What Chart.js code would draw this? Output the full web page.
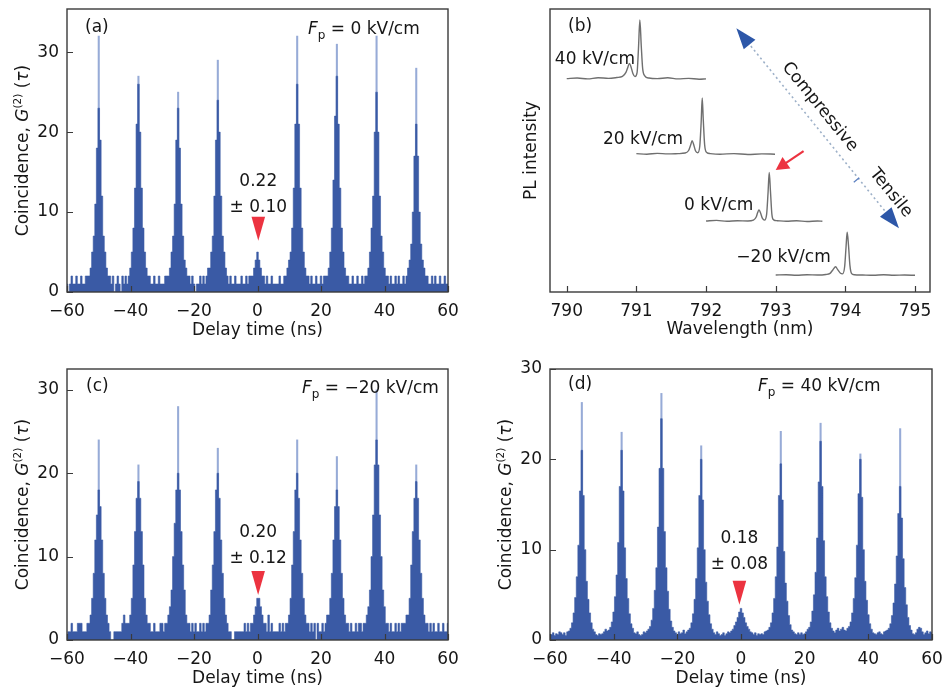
<!DOCTYPE html>
<html><head><meta charset="utf-8">
<script src="https://cdn.jsdelivr.net/npm/chart.js@4.4.1/dist/chart.umd.min.js"></script>
<style>
html,body{margin:0;padding:0;background:#fff;}
#wrap{position:relative;width:945px;height:689px;overflow:hidden;background:#fff;}
canvas{position:absolute;}
</style></head><body>
<div id="wrap">
<canvas id="ca" width="470" height="345" style="left:0;top:0"></canvas>
<canvas id="cb" width="475" height="345" style="left:470px;top:0"></canvas>
<canvas id="cc" width="470" height="344" style="left:0;top:345px"></canvas>
<canvas id="cd" width="475" height="344" style="left:470px;top:345px"></canvas>
</div>
<script>
// ---------------- DATA ----------------
// histogram bins: centres from -60 ns in 0.5 ns steps (241 bins)
const binStart = -60, binWidth = 0.5;
const delayTickStep = 20;
const peakDelays = [-50, -37.5, -25, -12.5, 12.5, 25, 37.5, 50];

// (a) Fp = 0 kV/cm  -- each row after the first = one pulse period (peak in the middle)
const countsA = [
  1,0,1,2,1,1,2,1,
  1,2,1,1,2,2,2,3,5,7,11,18,23,19,12,7,5,3,2,2,1,2,0,1,2,
  1,0,2,1,2,1,2,3,5,8,13,21,26,20,13,8,5,3,2,2,1,1,2,1,1,
  2,1,1,1,2,2,2,3,5,7,11,19,23,18,11,7,4,3,2,2,1,2,1,0,1,
  1,2,1,2,1,2,3,3,5,7,12,19,24,20,12,7,5,3,2,1,2,1,1,2,1,
  1,1,2,1,1,2,1,2,2,2,3,4,5,4,3,2,2,1,2,1,1,2,1,1,1,
  1,2,1,1,2,2,3,4,5,8,13,21,26,21,13,8,5,3,2,2,1,2,1,1,2,
  1,1,2,1,2,2,2,3,5,8,14,22,27,21,13,8,5,3,2,2,1,1,2,1,1,
  2,1,1,2,1,2,2,3,5,8,12,20,25,20,12,7,5,3,2,2,1,2,1,1,2,
  1,2,1,1,2,1,2,3,4,6,10,17,21,17,10,6,4,3,2,2,1,1,2,1,2,
  1,1,2,1,1,2,1,1
];
const spikesA = [32, 27, 25, 29, 32, 31, 32, 28];

// (c) Fp = -20 kV/cm
const countsC = [
  0,1,1,2,1,1,1,2,
  2,2,1,1,1,2,2,3,5,8,12,15,18,16,12,8,5,3,2,1,0,0,1,1,1,
  1,1,2,3,2,2,2,3,5,9,13,17,19,17,13,9,5,3,2,2,1,1,2,1,1,
  1,2,2,1,2,2,3,4,6,10,14,18,20,18,13,9,6,3,2,2,1,2,1,2,1,
  1,2,1,2,1,2,2,3,6,9,13,18,20,17,12,8,5,3,2,1,1,0,0,1,1,
  1,1,1,1,2,1,2,1,2,2,3,4,5,5,4,3,2,2,1,3,1,2,1,1,1,
  1,2,1,2,1,2,2,3,5,9,13,18,20,17,12,8,5,3,2,2,1,2,1,2,0,
  2,1,1,2,1,2,3,3,5,8,12,16,18,16,12,8,5,3,2,2,1,2,1,1,2,
  1,2,2,1,2,2,3,4,6,10,15,21,24,21,15,10,6,4,2,2,1,2,1,1,2,
  1,2,1,2,2,2,3,3,5,9,13,17,19,17,12,8,5,3,2,2,1,2,1,2,1,
  1,2,1,1,2,1,1,2
];
const spikesC = [24, 21, 28, 23, 24, 22, 30, 21];

// (d) Fp = 40 kV/cm
const countsD = [
  0.3,0.6,0.8,0.5,0.7,0.6,0.9,0.8,
  0.6,0.8,0.5,0.9,1.0,1.3,1.9,3.0,4.7,7.0,10.5,16.5,21,16,10,6.5,4.5,3.0,1.9,1.2,0.9,0.6,0.5,0.7,0.6,
  0.7,0.9,1.2,1.0,1.1,1.4,2.0,3.1,4.8,7.2,10.8,17,21,16.5,10.2,6.8,4.6,2.9,1.8,1.3,0.8,0.7,0.9,0.6,0.5,
  0.6,0.9,0.8,1.0,1.2,1.5,2.2,3.5,5.5,8.0,12.5,19,24.5,19,12,8,5.4,3.4,2.1,1.4,1.0,0.8,0.6,0.9,0.7,
  0.8,1.1,0.7,0.9,1.1,1.3,1.9,2.9,4.5,6.8,10.2,16,20,15.5,10,6.4,4.3,2.8,1.8,1.2,0.8,0.6,0.9,0.7,0.5,
  0.6,0.8,0.5,0.7,0.9,0.8,1.0,1.2,1.6,2.0,2.5,3.1,3.5,3.0,2.5,1.9,1.5,1.2,0.9,0.8,0.6,0.8,0.5,0.7,0.6,
  0.7,0.6,0.9,1.0,1.1,1.4,1.9,3.0,4.6,7.0,10.3,16,19.5,15.5,9.8,6.3,4.3,2.7,1.7,1.1,0.9,0.7,0.6,0.8,0.6,
  0.8,0.6,0.7,0.9,1.2,1.4,2.0,3.2,5.0,7.5,11.3,17.5,22,17,11,7,4.8,3.1,1.9,1.3,1.0,0.8,1.1,1.3,1.0,
  1.2,1.4,1.1,1.0,1.3,1.5,2.0,3.0,4.6,6.9,10.5,16.2,20,15.8,10,6.5,4.4,2.8,1.8,1.2,0.8,0.7,0.6,0.8,0.9,
  0.7,0.6,0.9,1.0,1.1,1.3,1.8,2.7,4.1,6.2,9.3,14,17,13.5,9,5.8,3.9,2.5,1.6,1.1,0.7,0.6,0.8,1.2,1.4,
  1.3,0.9,0.6,0.8,1.0,0.7,0.9,0.8
];
const spikesD = [26.3, 23, 27.3, 21.5, 23.1, 24, 20.6, 23.4];

// (b) PL spectra (offset for display)
const spectrumLabels = ['40 kV/cm', '20 kV/cm', '0 kV/cm', '\u221220 kV/cm'];
const wl40 = [790.00,790.15,790.30,790.45,790.60,790.72,790.80,790.85,790.88,790.90,790.92,790.95,790.98,791.01,791.03,791.05,791.07,791.09,791.12,791.18,791.30,791.45,791.60,791.75,791.90,792.00];
const pl40 = [75.4,75.6,75.3,75.7,75.5,75.8,76.2,77.6,79.6,80.8,79.8,77.2,76.1,77.5,86,96.1,87,79,76.4,75.6,75.4,75.7,75.3,75.5,75.2,75.3];
const wl20 = [791.00,791.15,791.30,791.45,791.60,791.70,791.75,791.78,791.80,791.82,791.85,791.88,791.91,791.93,791.945,791.96,791.98,792.01,792.06,792.20,792.40,792.60,792.80,792.99];
const pl20 = [48.9,48.7,49.0,48.8,48.9,49.1,50.0,52.0,53.5,52.3,49.8,49.2,51.5,60,68.6,61,52,49.3,48.9,48.7,48.9,48.6,48.8,48.7];
const wl0 = [792.00,792.15,792.30,792.45,792.60,792.68,792.72,792.74,792.76,792.78,792.81,792.84,792.87,792.89,792.907,792.925,792.945,792.97,793.02,793.15,793.30,793.45,793.60,793.67];
const pl0 = [25.1,25.3,25.0,25.2,25.1,25.4,26.5,28.0,29.0,28.1,26.0,25.4,27.5,35,42.2,35.5,27.5,25.5,25.2,25.0,25.2,24.9,25.1,25.0];
const wlm20 = [793.00,793.15,793.30,793.45,793.60,793.72,793.78,793.82,793.86,793.89,793.93,793.96,793.99,794.01,794.026,794.045,794.065,794.09,794.13,794.25,794.40,794.55,794.70,794.85,795.00];
const plm20 = [6.0,6.1,5.9,6.1,6.0,6.2,6.6,7.8,8.9,7.9,6.6,6.4,9.0,16,21.1,16.5,9.5,6.5,6.1,6.0,5.9,6.1,5.9,6.0,5.9];

// ---------------- STYLE ----------------
const FONT = "'DejaVu Sans', 'Open Sans', sans-serif";
const FS = 17;
const BLUE = '#3a5aa5';
const SPIKE = 'rgba(125,150,205,0.8)';
const RED = '#ec3340';
const TXT = '#161616';
Chart.defaults.font.family = FONT;
Chart.defaults.color = TXT;

const fmt = v => String(v).replace('-', '\u2212');

function drawRich(ctx, parts, x, y, rot, align, baseOff) {
  ctx.save();
  ctx.translate(x, y);
  ctx.rotate(rot);
  let w = 0;
  parts.forEach(p => {
    ctx.font = (p.italic ? 'italic ' : '') + (p.size || FS) + 'px ' + FONT;
    p.w = ctx.measureText(p.t).width;
    w += p.w;
  });
  let cx = align === 'center' ? -w / 2 : 0;
  ctx.textBaseline = 'alphabetic';
  ctx.textAlign = 'left';
  ctx.fillStyle = TXT;
  parts.forEach(p => {
    ctx.font = (p.italic ? 'italic ' : '') + (p.size || FS) + 'px ' + FONT;
    ctx.fillText(p.t, cx, baseOff + (p.dy || 0));
    cx += p.w;
  });
  ctx.restore();
}

function framePlugin(yTicks) {
  return {
    id: 'frame',
    afterDatasetsDraw(chart) {
      const {ctx, chartArea: a} = chart;
      ctx.save();
      ctx.strokeStyle = '#3a3a3a';
      ctx.lineWidth = 1.4;
      ctx.strokeRect(a.left, a.top, a.right - a.left, a.bottom - a.top);
      ctx.lineWidth = 1.2;
      ctx.beginPath();
      chart.scales.x.ticks.forEach(t => {
        const px = Math.round(chart.scales.x.getPixelForValue(t.value)) + 0.5;
        ctx.moveTo(px, a.bottom); ctx.lineTo(px, a.bottom - 6);
      });
      if (yTicks) {
        chart.scales.y.ticks.forEach(t => {
          const py = Math.round(chart.scales.y.getPixelForValue(t.value)) + 0.5;
          ctx.moveTo(a.left, py); ctx.lineTo(a.left + 6, py);
        });
      }
      ctx.stroke();
      ctx.restore();
    }
  };
}

const yTitleParts = () => [
  {t: 'Coincidence, '}, {t: 'G', italic: true}, {t: '(2)', size: 10.5, dy: -7},
  {t: ' ('}, {t: '\u03c4', italic: true}, {t: ')'}
];

function histAnnot(c) {
  return {
    id: 'annot',
    afterDraw(chart) {
      const {ctx, chartArea: a, scales: {x, y}} = chart;
      ctx.save();
      ctx.fillStyle = TXT;
      ctx.font = FS + 'px ' + FONT;
      ctx.textBaseline = 'middle';
      ctx.textAlign = 'left';
      ctx.fillText(c.tag, a.left + c.tagDx, a.top + c.tagDy);
      drawRich(ctx, [{t: 'F', italic: true}, {t: 'p', size: 12, dy: 5}, {t: ' = ' + c.field}],
        a.left + c.fieldDx, a.top + c.tagDy, 0, 'left', 6.2);
      const mx = x.getPixelForValue(c.markX), my = y.getPixelForValue(c.markY);
      ctx.fillStyle = RED;
      ctx.beginPath();
      ctx.moveTo(mx, my); ctx.lineTo(mx - 6.8, my - 24); ctx.lineTo(mx + 6.8, my - 24);
      ctx.closePath(); ctx.fill();
      ctx.fillStyle = TXT;
      ctx.font = FS + 'px ' + FONT;
      ctx.textAlign = 'center';
      ctx.textBaseline = 'middle';
      ctx.fillText(c.val, mx, y.getPixelForValue(c.valY));
      ctx.fillText(c.err, mx, y.getPixelForValue(c.errY));
      drawRich(ctx, yTitleParts(), c.yTitleX, (a.top + a.bottom) / 2, -Math.PI / 2, 'center', 6.2);
      ctx.restore();
    }
  };
}

function histChart(id, counts, spikes, L, ann) {
  const pts = counts.map((c, i) => ({x: binStart + i * binWidth, y: c}));
  const spk = peakDelays.map((t, i) => ({x: t, y: spikes[i]}));
  return new Chart(document.getElementById(id), {
    type: 'line',
    data: {datasets: [
      {data: pts, stepped: 'middle', fill: 'origin', backgroundColor: BLUE, borderColor: BLUE,
       borderWidth: 0.6, pointRadius: 0, order: 1},
      {type: 'bar', data: spk, backgroundColor: SPIKE, barThickness: 1.4, grouped: false, order: 2}
    ]},
    options: {
      responsive: false, animation: false, devicePixelRatio: 1,
      layout: {padding: {left: 0, top: L.top, right: L.right, bottom: 0}},
      plugins: {legend: {display: false}, tooltip: {enabled: false}},
      scales: {
        x: {type: 'linear', min: -60, max: 60, offset: false,
            ticks: {stepSize: delayTickStep, includeBounds: false, autoSkip: false, maxRotation: 0,
                    padding: 9, font: {size: FS}, color: TXT, callback: v => fmt(v)},
            grid: {display: false, drawTicks: false}, border: {display: false},
            title: {display: true, text: 'Delay time (ns)', font: {size: FS}, color: TXT,
                    padding: {top: 0, bottom: L.xTitlePad}},
            afterFit: s => { s.height = L.xH; s.paddingLeft = 0; s.paddingRight = 0; }},
        y: {type: 'linear', min: 0, max: L.ymax,
            ticks: {stepSize: 10, includeBounds: false, autoSkip: false, padding: 8,
                    font: {size: FS}, color: TXT, callback: v => fmt(v)},
            grid: {display: false, drawTicks: false}, border: {display: false},
            afterFit: s => { s.width = L.yW; s.paddingTop = 0; s.paddingBottom = 0; }}
      }
    },
    plugins: [framePlugin(true), histAnnot(ann)]
  });
}

histChart('ca', countsA, spikesA,
  {top: 9, right: 22, xH: 53, yW: 67, ymax: 35.4, xTitlePad: 4},
  {tag: '(a)', tagDx: 18, tagDy: 19, field: '0 kV/cm', fieldDx: 241,
   markX: 0.25, markY: 6.4, val: '0.22', valY: 13.75, err: '\u00b1 0.10', errY: 10.6, yTitleX: 22});

histChart('cc', countsC, spikesC,
  {top: 24, right: 22, xH: 49, yW: 67, ymax: 32.5, xTitlePad: 0},
  {tag: '(c)', tagDx: 19, tagDy: 18, field: '\u221220 kV/cm', fieldDx: 235,
   markX: 0.2, markY: 5.4, val: '0.20', valY: 12.9, err: '\u00b1 0.12', errY: 9.8, yTitleX: 22});

histChart('cd', countsD, spikesD,
  {top: 24, right: 13, xH: 49, yW: 80, ymax: 30, xTitlePad: 0},
  {tag: '(d)', tagDx: 18, tagDy: 16, field: '40 kV/cm', fieldDx: 208,
   markX: -0.5, markY: 3.9, val: '0.18', valY: 11.2, err: '\u00b1 0.08', errY: 8.4, yTitleX: 35});

// ---------------- panel (b) ----------------
const specLabelAnchors = [[790.98, 82], [791.67, 54], [792.68, 30.7], [793.79, 12.1]];
const strainArrow = {from: [792.435, 93.2], to: [794.77, 22.5], tick: [794.16, 39.6],
                     compressive: [793.634, 65.4], tensile: [794.653, 35.0]};
const redArrow = {from: [793.40, 49.8], to: [793.0, 43.1]};

function arrowHead(ctx, tx, ty, ang, len, half, color) {
  ctx.save();
  ctx.translate(tx, ty); ctx.rotate(ang);
  ctx.fillStyle = color;
  ctx.beginPath(); ctx.moveTo(0, 0); ctx.lineTo(-len, -half); ctx.lineTo(-len, half); ctx.closePath();
  ctx.fill();
  ctx.restore();
}

const specAnnot = {
  id: 'annot',
  afterDraw(chart) {
    const {ctx, chartArea: a, scales: {x, y}} = chart;
    const P = p => [x.getPixelForValue(p[0]), y.getPixelForValue(p[1])];
    ctx.save();
    ctx.fillStyle = TXT;
    ctx.font = FS + 'px ' + FONT;
    ctx.textBaseline = 'middle';
    ctx.textAlign = 'left';
    ctx.fillText('(b)', a.left + 18, a.top + 18);
    ctx.textAlign = 'right';
    specLabelAnchors.forEach((p, i) => { const [px, py] = P(p); ctx.fillText(spectrumLabels[i], px, py); });
    // red arrow
    const [r0x, r0y] = P(redArrow.from), [r1x, r1y] = P(redArrow.to);
    const ra = Math.atan2(r1y - r0y, r1x - r0x);
    ctx.strokeStyle = RED; ctx.lineWidth = 2.2;
    ctx.beginPath(); ctx.moveTo(r0x, r0y); ctx.lineTo(r1x - 9 * Math.cos(ra), r1y - 9 * Math.sin(ra)); ctx.stroke();
    arrowHead(ctx, r1x, r1y, ra, 13, 7, RED);
    // strain double arrow
    const [s0x, s0y] = P(strainArrow.from), [s1x, s1y] = P(strainArrow.to);
    const sa = Math.atan2(s1y - s0y, s1x - s0x);
    ctx.strokeStyle = '#9db0c8'; ctx.lineWidth = 1.6; ctx.setLineDash([2, 3]);
    ctx.beginPath();
    ctx.moveTo(s0x + 18 * Math.cos(sa), s0y + 18 * Math.sin(sa));
    ctx.lineTo(s1x - 18 * Math.cos(sa), s1y - 18 * Math.sin(sa));
    ctx.stroke(); ctx.setLineDash([]);
    arrowHead(ctx, s1x, s1y, sa, 21, 7.5, '#2d57a8');
    arrowHead(ctx, s0x, s0y, sa + Math.PI, 21, 7.5, '#2d57a8');
    const [tkx, tky] = P(strainArrow.tick);
    ctx.strokeStyle = '#5b7fc0'; ctx.lineWidth = 1.3;
    ctx.beginPath();
    ctx.moveTo(tkx - 3.5 * Math.sin(sa), tky + 3.5 * Math.cos(sa));
    ctx.lineTo(tkx + 3.5 * Math.sin(sa), tky - 3.5 * Math.cos(sa));
    ctx.stroke();
    // rotated labels
    [['Compressive', strainArrow.compressive], ['Tensile', strainArrow.tensile]].forEach(([t, p]) => {
      const [px, py] = P(p);
      ctx.save(); ctx.translate(px, py); ctx.rotate(sa);
      ctx.textAlign = 'center'; ctx.textBaseline = 'middle'; ctx.fillStyle = TXT;
      ctx.font = FS + 'px ' + FONT;
      ctx.fillText(t, 0, 0);
      ctx.restore();
    });
    ctx.restore();
  }
};

const specSets = [[wl40, pl40], [wl20, pl20], [wl0, pl0], [wlm20, plm20]].map(([w, p]) => ({
  data: w.map((l, i) => ({x: l, y: p[i]})),
  borderColor: '#6f6f6f', borderWidth: 1.4, pointRadius: 0, cubicInterpolationMode: 'monotone', fill: false
}));

new Chart(document.getElementById('cb'), {
  type: 'line',
  data: {datasets: specSets},
  options: {
    responsive: false, animation: false, devicePixelRatio: 1,
    layout: {padding: {left: 0, top: 9, right: 15, bottom: 0}},
    plugins: {legend: {display: false}, tooltip: {enabled: false}},
    scales: {
      x: {type: 'linear', min: 789.76, max: 795.215, offset: false,
          ticks: {stepSize: 1, includeBounds: false, autoSkip: false, maxRotation: 0, padding: 9,
                  font: {size: FS}, color: TXT, callback: v => String(v)},
          grid: {display: false, drawTicks: false}, border: {display: false},
          title: {display: true, text: 'Wavelength (nm)', font: {size: FS}, color: TXT,
                  padding: {top: 0, bottom: 5}},
          afterFit: s => { s.height = 53; s.paddingLeft = 0; s.paddingRight = 0; }},
      y: {type: 'linear', min: 0, max: 100,
          ticks: {display: false},
          grid: {display: false, drawTicks: false}, border: {display: false},
          title: {display: true, text: 'PL intensity', font: {size: FS}, color: TXT,
                  padding: {top: 51.5, bottom: 0}},
          afterFit: s => { s.width = 80; s.paddingTop = 0; s.paddingBottom = 0; }}
    }
  },
  plugins: [framePlugin(false), specAnnot]
});
</script>
</body></html>
